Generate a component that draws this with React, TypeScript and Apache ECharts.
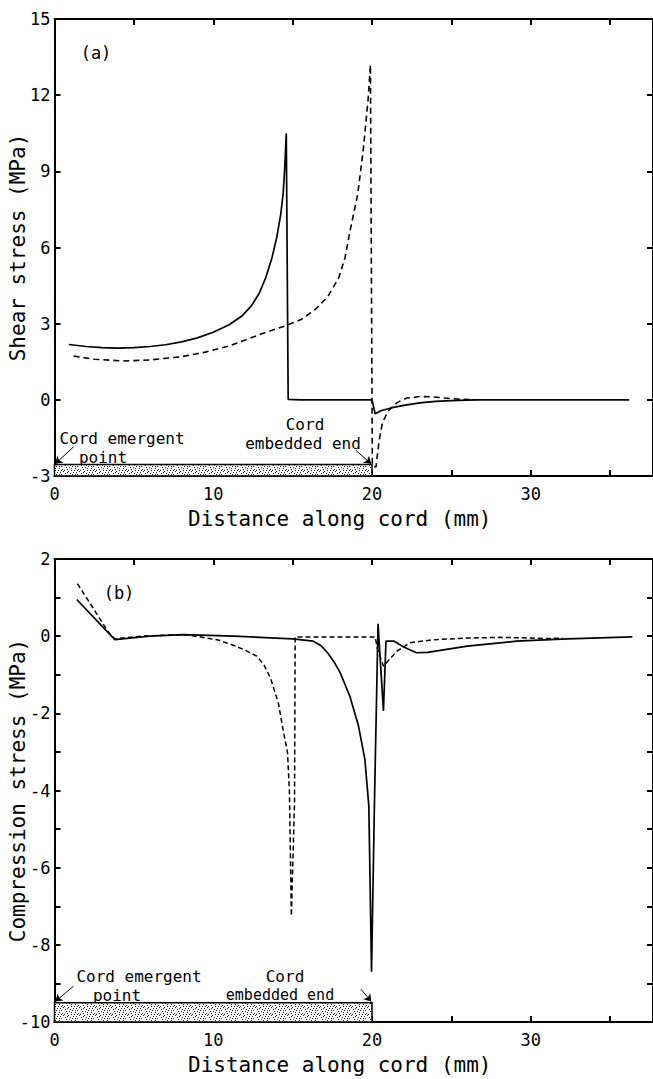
import React, { useEffect, useRef } from 'react';
import * as echarts from 'echarts';

// ---------- data ----------
const X_MAX = 37.7;
const xTickLabels = [0, 10, 20, 30];

// Panel (a): shear stress (MPa)
const aSolidX = [0.9, 2, 3, 4, 5, 6, 7, 8, 9, 10, 11, 11.8, 12.4, 12.9, 13.3, 13.7, 14.0, 14.25, 14.4, 14.5, 14.6, 14.72, 15.5, 20.0, 20.2, 20.6, 21.2, 22.0, 23.0, 24.0, 25.0, 26.5, 36.2];
const aSolidY = [2.18, 2.1, 2.06, 2.04, 2.06, 2.1, 2.17, 2.28, 2.44, 2.66, 2.96, 3.3, 3.7, 4.2, 4.8, 5.6, 6.4, 7.3, 8.1, 9.1, 10.5, 0.02, 0.0, 0.0, -0.55, -0.42, -0.32, -0.22, -0.12, -0.06, -0.03, 0, 0];
const aDashX = [1.2, 2.5, 4.3, 6, 8, 9.5, 11, 12.2, 13.4, 14.5, 15.5, 16.4, 17.2, 17.9, 18.3, 18.6, 19.1, 19.45, 19.75, 19.9, 20.02, 20.25, 20.45, 20.65, 21.0, 21.6, 22.2, 23.0, 23.8, 24.6, 25.4, 26.5];
const aDashY = [1.72, 1.6, 1.53, 1.57, 1.7, 1.88, 2.12, 2.4, 2.68, 2.9, 3.15, 3.55, 4.05, 4.8, 5.6, 6.6, 8.1, 9.85, 11.8, 13.2, -2.6, -2.65, -1.6, -0.92, -0.45, -0.1, 0.07, 0.13, 0.12, 0.07, 0.03, 0];
const aYTicks = { min: -3, max: 15, interval: 3 };

// Panel (b): compression stress (MPa)
const bSolidX = [1.4, 3.8, 6, 8.1, 11.3, 15.0, 16.3, 16.8, 17.2, 17.6, 18.0, 18.6, 19.15, 19.55, 19.8, 19.97, 20.15, 20.38, 20.72, 20.88, 21.4, 22.0, 22.8, 23.5, 26.0, 29.1, 32.3, 36.4];
const bSolidY = [0.95, -0.09, 0.0, 0.04, 0.0, -0.07, -0.13, -0.25, -0.43, -0.66, -0.95, -1.55, -2.33, -3.19, -4.4, -8.7, -4.4, 0.32, -1.94, -0.13, -0.13, -0.28, -0.43, -0.42, -0.26, -0.13, -0.07, -0.02];
const bDashX = [1.44, 2.4, 3.4, 3.8, 5.5, 8.1, 9.2, 10.3, 11.3, 12.0, 12.75, 13.2, 13.6, 14.1, 14.43, 14.68, 14.8, 14.92, 15.12, 15.16, 17.5, 20.2, 20.35, 20.73, 21.1, 21.57, 22.4, 23.9, 26.0, 28.1, 31.0, 32.0];
const bDashY = [1.36, 0.75, 0.1, -0.07, 0.0, 0.04, -0.02, -0.1, -0.24, -0.36, -0.52, -0.75, -1.08, -1.73, -2.5, -3.02, -4.06, -7.25, -4.3, -0.02, -0.02, -0.02, -0.35, -0.78, -0.6, -0.39, -0.17, -0.09, -0.05, -0.03, -0.06, -0.05];
const bYTicks = { min: -10, max: 2, interval: 1 };

// Cord bar (x range, y range) and annotation arrows in data units
const aBar = { x0: 0, x1: 20, y0: -3, y1: -2.55 };
const bBar = { x0: 0, x1: 20, y0: -10, y1: -9.5 };
const aArrows = [[[1.2, -1.85], [0.05, -2.52]], [[19.0, -2.0], [19.95, -2.52]]];
const bArrows = [[[1.2, -9.07], [0.05, -9.47]], [[19.3, -9.15], [19.95, -9.47]]];

const FONT = '"DejaVu Sans Mono", monospace';

const zip = (xs: number[], ys: number[]) => xs.map((x, i) => [x, ys[i]]);

function makeStipple() {
  const c = document.createElement('canvas');
  c.width = 16;
  c.height = 8;
  const ctx = c.getContext('2d')!;
  ctx.fillStyle = '#ffffff';
  ctx.fillRect(0, 0, 16, 8);
  ctx.fillStyle = '#222';
  const dots = [
    [1, 1], [5, 3], [9, 0], [13, 2], [3, 5], [7, 6], [11, 4], [15, 7], [2, 3], [10, 6], [6, 1], [14, 5],
    [0, 6], [4, 7], [8, 2], [12, 0], [3, 0], [13, 6], [7, 4], [11, 2],
  ];
  dots.forEach(([x, y]) => ctx.fillRect(x, y, 1, 1));
  return c;
}

function xAxis(grid: number, position: string, main: boolean) {
  return {
    type: 'value',
    gridIndex: grid,
    position,
    min: 0,
    max: X_MAX,
    interval: 5,
    axisLine: { show: true, onZero: false, lineStyle: { color: '#000', width: 2 } },
    axisTick: { show: true, inside: true, length: 6, lineStyle: { color: '#000', width: 2 } },
    axisLabel: main
      ? {
          show: true,
          margin: 9,
          color: '#000',
          fontSize: 17,
          fontFamily: FONT,
          formatter: (v: number) => (xTickLabels.indexOf(v) >= 0 ? String(v) : ''),
        }
      : { show: false },
    splitLine: { show: false },
    name: main ? 'Distance along cord (mm)' : '',
    nameLocation: 'middle',
    nameGap: 32,
    nameMoveOverlap: false,
    nameTextStyle: { color: '#000', fontSize: 21, fontFamily: FONT, padding: [0, 28, 0, 0] },
  };
}

function yAxis(grid: number, position: string, main: boolean, t: any, name: string, even: boolean) {
  return {
    type: 'value',
    gridIndex: grid,
    position,
    min: t.min,
    max: t.max,
    interval: t.interval,
    axisLine: { show: true, onZero: false, lineStyle: { color: '#000', width: 2 } },
    axisTick: { show: true, inside: true, length: 6, lineStyle: { color: '#000', width: 2 } },
    axisLabel: main
      ? {
          show: true,
          margin: 4,
          color: '#000',
          fontSize: 17,
          fontFamily: FONT,
          formatter: (v: number) => (even ? (Math.round(v) % 2 === 0 ? String(v) : '') : String(v)),
        }
      : { show: false },
    splitLine: { show: false },
    name: main ? name : '',
    nameLocation: 'middle',
    nameGap: 26,
    nameMoveOverlap: false,
    nameTextStyle: { color: '#000', fontSize: 21, fontFamily: FONT },
  };
}

function barArea(pattern: any, bar: any) {
  return {
    silent: true,
    itemStyle: { color: pattern, borderColor: '#000', borderWidth: 1.5 },
    data: [[{ coord: [bar.x0, bar.y0] }, { coord: [bar.x1, bar.y1] }]],
  };
}

function arrowLines(arrows: number[][][]) {
  return {
    silent: true,
    symbol: ['none', 'arrow'],
    symbolSize: 7,
    label: { show: false },
    lineStyle: { color: '#000', width: 1, type: 'solid' },
    data: arrows.map(([a, b]) => [{ coord: a }, { coord: b }]),
  };
}

function txt(text: string, x: number, y: number, size: number) {
  return {
    type: 'text',
    x,
    y,
    silent: true,
    style: {
      text,
      fill: '#000',
      fontSize: size,
      fontFamily: FONT,
      align: 'center',
      verticalAlign: 'middle',
      textAlign: 'center',
      textVerticalAlign: 'middle',
    },
  };
}

export default function App() {
  const ref = useRef<HTMLDivElement>(null);
  useEffect(() => {
    if (!ref.current) return;
    const chart = echarts.init(ref.current, null, { renderer: 'svg' });
    const pattern = { image: makeStipple(), repeat: 'repeat', imageWidth: 16, imageHeight: 8 };
    const lineBase = { type: 'line', showSymbol: false, symbol: 'none', smooth: false, silent: true };
    const option: any = {
      animation: false,
      backgroundColor: '#fff',
      grid: [
        { left: 54.5, top: 19, right: 0, height: 457, containLabel: false, outerBoundsMode: 'none' },
        { left: 54.5, top: 559, right: 0, height: 463, containLabel: false, outerBoundsMode: 'none' },
      ],
      xAxis: [xAxis(0, 'bottom', true), xAxis(0, 'top', false), xAxis(1, 'bottom', true), xAxis(1, 'top', false)],
      yAxis: [
        yAxis(0, 'left', true, aYTicks, 'Shear stress (MPa)', false),
        yAxis(0, 'right', false, aYTicks, '', false),
        yAxis(1, 'left', true, bYTicks, 'Compression stress (MPa)', true),
        yAxis(1, 'right', false, bYTicks, '', true),
      ],
      series: [
        {
          ...lineBase,
          name: 'a-solid',
          xAxisIndex: 0,
          yAxisIndex: 0,
          data: zip(aSolidX, aSolidY),
          lineStyle: { color: '#000', width: 1.7 },
          markArea: barArea(pattern, aBar),
          markLine: arrowLines(aArrows),
        },
        {
          ...lineBase,
          name: 'a-dashed',
          xAxisIndex: 0,
          yAxisIndex: 0,
          data: zip(aDashX, aDashY),
          lineStyle: { color: '#000', width: 1.6, type: [6, 4] },
        },
        {
          ...lineBase,
          name: 'b-solid',
          xAxisIndex: 2,
          yAxisIndex: 2,
          data: zip(bSolidX, bSolidY),
          lineStyle: { color: '#000', width: 1.7 },
          markArea: barArea(pattern, bBar),
          markLine: arrowLines(bArrows),
        },
        {
          ...lineBase,
          name: 'b-dashed',
          xAxisIndex: 2,
          yAxisIndex: 2,
          data: zip(bDashX, bDashY),
          lineStyle: { color: '#000', width: 1.5, type: [5, 3] },
        },
      ],
      graphic: [
        txt('(a)', 96, 53, 17),
        txt('Cord emergent', 122, 438, 16),
        txt('point', 103, 457, 16),
        txt('Cord', 305, 424, 16),
        txt('embedded end', 303, 443, 16),
        txt('(b)', 119, 593, 17),
        txt('Cord emergent', 139, 976, 16),
        txt('point', 117, 995, 16),
        txt('Cord', 285, 976, 16),
        txt('embedded end', 280, 995, 15),
      ],
    };
    chart.setOption(option);
    return () => chart.dispose();
  }, []);
  return (
    <div
      ref={ref}
      style={{ position: 'fixed', left: 0, top: 0, width: 653, height: 1079, background: '#fff' }}
    />
  );
}
